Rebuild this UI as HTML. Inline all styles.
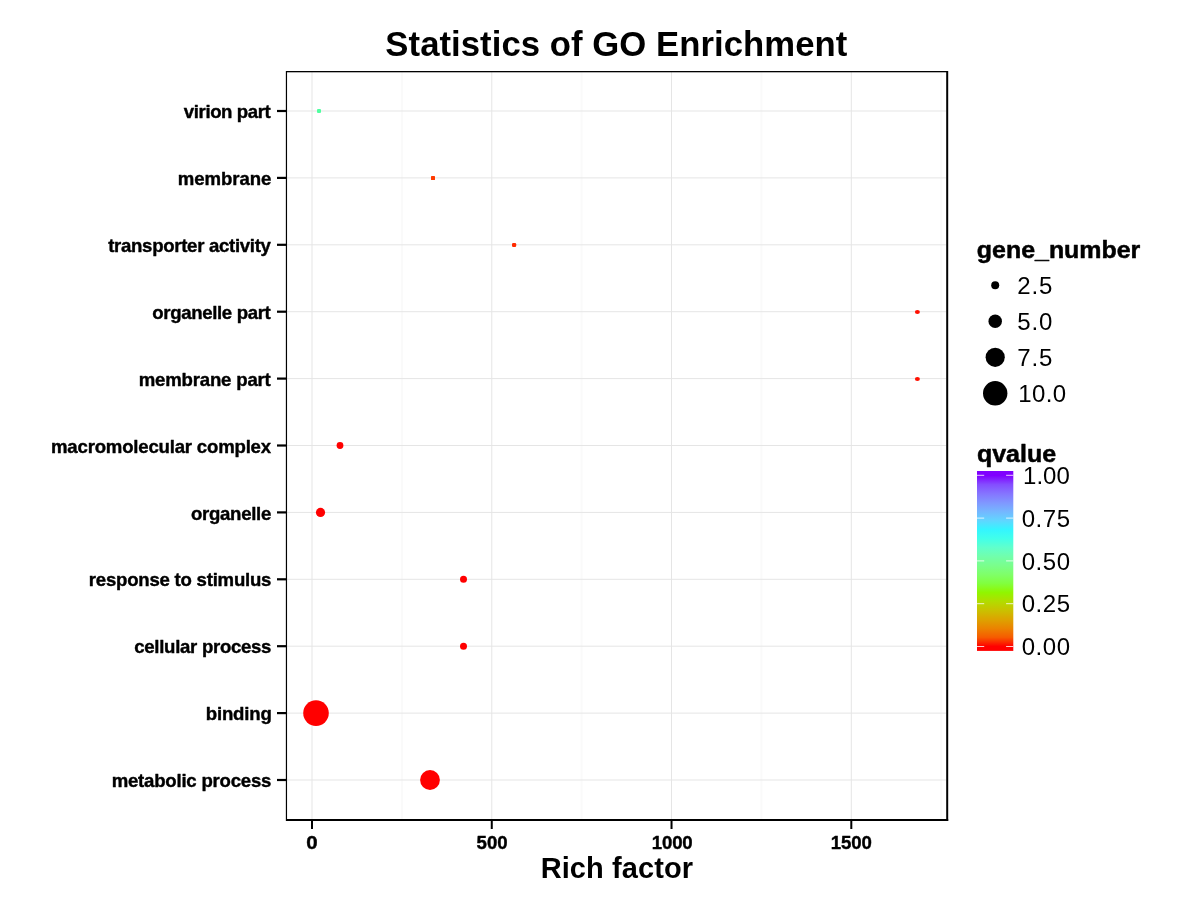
<!DOCTYPE html>
<html lang="en"><head><meta charset="utf-8"><title>Statistics of GO Enrichment</title>
<style>
html,body{margin:0;padding:0;background:#fff;}
body{width:1200px;height:900px;overflow:hidden;}
svg{display:block;will-change:transform;transform:translateZ(0);}
svg text{white-space:pre;}
</style></head><body>
<svg width="1200" height="900" viewBox="0 0 1200 900">
<defs><linearGradient id="rb" x1="0" y1="1" x2="0" y2="0">
<stop offset="0.0250" stop-color="#FF0000"/>
<stop offset="0.0750" stop-color="#F65B00"/>
<stop offset="0.1250" stop-color="#EB8300"/>
<stop offset="0.1750" stop-color="#DDA300"/>
<stop offset="0.2250" stop-color="#CAC100"/>
<stop offset="0.2750" stop-color="#B2DC00"/>
<stop offset="0.3250" stop-color="#90F600"/>
<stop offset="0.3750" stop-color="#81FF3E"/>
<stop offset="0.4250" stop-color="#7FFF69"/>
<stop offset="0.4750" stop-color="#7AFE8C"/>
<stop offset="0.5250" stop-color="#71FEAC"/>
<stop offset="0.5750" stop-color="#60FFCC"/>
<stop offset="0.6250" stop-color="#41FFEA"/>
<stop offset="0.6750" stop-color="#34F5FF"/>
<stop offset="0.7250" stop-color="#61D5FF"/>
<stop offset="0.7750" stop-color="#75B6FF"/>
<stop offset="0.8250" stop-color="#8096FF"/>
<stop offset="0.8750" stop-color="#8574FF"/>
<stop offset="0.9250" stop-color="#844DFF"/>
<stop offset="0.9750" stop-color="#8000FF"/>
</linearGradient></defs>
<rect x="0" y="0" width="1200" height="900" fill="#ffffff"/>
<line x1="401.88" y1="72" x2="401.88" y2="819" stroke="#FAFAFA" stroke-width="2"/>
<line x1="581.65" y1="72" x2="581.65" y2="819" stroke="#FAFAFA" stroke-width="2"/>
<line x1="761.42" y1="72" x2="761.42" y2="819" stroke="#FAFAFA" stroke-width="2"/>
<line x1="941.18" y1="72" x2="941.18" y2="819" stroke="#FAFAFA" stroke-width="2"/>
<line x1="312.00" y1="72" x2="312.00" y2="819" stroke="#E5E5E5" stroke-width="1"/>
<line x1="491.77" y1="72" x2="491.77" y2="819" stroke="#E5E5E5" stroke-width="1"/>
<line x1="671.53" y1="72" x2="671.53" y2="819" stroke="#E5E5E5" stroke-width="1"/>
<line x1="851.30" y1="72" x2="851.30" y2="819" stroke="#E5E5E5" stroke-width="1"/>
<line x1="287" y1="111.00" x2="946" y2="111.00" stroke="#E5E5E5" stroke-width="1"/>
<line x1="287" y1="177.90" x2="946" y2="177.90" stroke="#E5E5E5" stroke-width="1"/>
<line x1="287" y1="244.80" x2="946" y2="244.80" stroke="#E5E5E5" stroke-width="1"/>
<line x1="287" y1="311.70" x2="946" y2="311.70" stroke="#E5E5E5" stroke-width="1"/>
<line x1="287" y1="378.60" x2="946" y2="378.60" stroke="#E5E5E5" stroke-width="1"/>
<line x1="287" y1="445.50" x2="946" y2="445.50" stroke="#E5E5E5" stroke-width="1"/>
<line x1="287" y1="512.40" x2="946" y2="512.40" stroke="#E5E5E5" stroke-width="1"/>
<line x1="287" y1="579.30" x2="946" y2="579.30" stroke="#E5E5E5" stroke-width="1"/>
<line x1="287" y1="646.20" x2="946" y2="646.20" stroke="#E5E5E5" stroke-width="1"/>
<line x1="287" y1="713.10" x2="946" y2="713.10" stroke="#E5E5E5" stroke-width="1"/>
<line x1="287" y1="780.00" x2="946" y2="780.00" stroke="#E5E5E5" stroke-width="1"/>
<rect x="317.0" y="109.0" width="4.0" height="4.0" rx="1.1" fill="#50FFA0"/>
<rect x="431.0" y="176.0" width="4.0" height="4.0" rx="0.6" fill="#FF3A00"/>
<rect x="512.0" y="243.0" width="4.2" height="4.0" rx="1.2" fill="#FF2A00"/>
<ellipse cx="917.4" cy="312.00" rx="2.5" ry="2.1" fill="#FF0F00"/>
<ellipse cx="917.4" cy="379.00" rx="2.5" ry="2.1" fill="#FF0F00"/>
<circle cx="340.00" cy="445.50" r="3.40" fill="#FF0000"/>
<circle cx="320.50" cy="512.40" r="4.60" fill="#FF0000"/>
<circle cx="463.50" cy="579.30" r="3.50" fill="#FF0000"/>
<circle cx="463.50" cy="646.20" r="3.50" fill="#FF0000"/>
<circle cx="316.00" cy="713.10" r="12.80" fill="#FF0000"/>
<circle cx="430.00" cy="780.00" r="9.90" fill="#FF0000"/>
<rect x="285.85" y="71" width="1.2" height="750" fill="#000"/>
<rect x="286" y="71" width="662" height="1.3" fill="#000"/>
<rect x="946.2" y="71" width="2" height="750" fill="#000"/>
<rect x="286" y="819" width="662.2" height="2" fill="#000"/>
<rect x="277" y="109.90" width="9.5" height="2.2" fill="#000"/>
<rect x="277" y="176.80" width="9.5" height="2.2" fill="#000"/>
<rect x="277" y="243.70" width="9.5" height="2.2" fill="#000"/>
<rect x="277" y="310.60" width="9.5" height="2.2" fill="#000"/>
<rect x="277" y="377.50" width="9.5" height="2.2" fill="#000"/>
<rect x="277" y="444.40" width="9.5" height="2.2" fill="#000"/>
<rect x="277" y="511.30" width="9.5" height="2.2" fill="#000"/>
<rect x="277" y="578.20" width="9.5" height="2.2" fill="#000"/>
<rect x="277" y="645.10" width="9.5" height="2.2" fill="#000"/>
<rect x="277" y="712.00" width="9.5" height="2.2" fill="#000"/>
<rect x="277" y="778.90" width="9.5" height="2.2" fill="#000"/>
<rect x="311.00" y="820" width="2" height="9" fill="#000"/>
<rect x="490.77" y="820" width="2" height="9" fill="#000"/>
<rect x="670.53" y="820" width="2" height="9" fill="#000"/>
<rect x="850.30" y="820" width="2" height="9" fill="#000"/>
<text x="616.35" y="55.90" font-size="34.7" font-weight="bold" text-anchor="middle" textLength="461.97" lengthAdjust="spacing" font-family="Liberation Sans, Arial, Helvetica, sans-serif" fill="#000">Statistics of GO Enrichment</text>
<text x="616.85" y="877.80" font-size="29" font-weight="bold" text-anchor="middle" textLength="152.33" lengthAdjust="spacing" font-family="Liberation Sans, Arial, Helvetica, sans-serif" fill="#000">Rich factor</text>
<text x="270.80" y="118.00" font-size="18.6" font-weight="bold" text-anchor="end" textLength="86.99" lengthAdjust="spacing" font-family="Liberation Sans, Arial, Helvetica, sans-serif" fill="#000" stroke="#000" stroke-width="0.40" stroke-linejoin="round">virion part</text>
<text x="271.30" y="185.00" font-size="18.6" font-weight="bold" text-anchor="end" textLength="93.57" lengthAdjust="spacing" font-family="Liberation Sans, Arial, Helvetica, sans-serif" fill="#000" stroke="#000" stroke-width="0.40" stroke-linejoin="round">membrane</text>
<text x="270.90" y="252.00" font-size="18.6" font-weight="bold" text-anchor="end" textLength="162.71" lengthAdjust="spacing" font-family="Liberation Sans, Arial, Helvetica, sans-serif" fill="#000" stroke="#000" stroke-width="0.40" stroke-linejoin="round">transporter activity</text>
<text x="270.80" y="319.00" font-size="18.6" font-weight="bold" text-anchor="end" textLength="118.49" lengthAdjust="spacing" font-family="Liberation Sans, Arial, Helvetica, sans-serif" fill="#000" stroke="#000" stroke-width="0.40" stroke-linejoin="round">organelle part</text>
<text x="270.80" y="386.00" font-size="18.6" font-weight="bold" text-anchor="end" textLength="132.08" lengthAdjust="spacing" font-family="Liberation Sans, Arial, Helvetica, sans-serif" fill="#000" stroke="#000" stroke-width="0.40" stroke-linejoin="round">membrane part</text>
<text x="271.10" y="453.00" font-size="18.6" font-weight="bold" text-anchor="end" textLength="220.08" lengthAdjust="spacing" font-family="Liberation Sans, Arial, Helvetica, sans-serif" fill="#000" stroke="#000" stroke-width="0.40" stroke-linejoin="round">macromolecular complex</text>
<text x="271.30" y="520.00" font-size="18.6" font-weight="bold" text-anchor="end" textLength="80.28" lengthAdjust="spacing" font-family="Liberation Sans, Arial, Helvetica, sans-serif" fill="#000" stroke="#000" stroke-width="0.40" stroke-linejoin="round">organelle</text>
<text x="271.40" y="586.00" font-size="18.6" font-weight="bold" text-anchor="end" textLength="182.57" lengthAdjust="spacing" font-family="Liberation Sans, Arial, Helvetica, sans-serif" fill="#000" stroke="#000" stroke-width="0.40" stroke-linejoin="round">response to stimulus</text>
<text x="271.40" y="653.00" font-size="18.6" font-weight="bold" text-anchor="end" textLength="137.12" lengthAdjust="spacing" font-family="Liberation Sans, Arial, Helvetica, sans-serif" fill="#000" stroke="#000" stroke-width="0.40" stroke-linejoin="round">cellular process</text>
<text x="271.90" y="720.00" font-size="18.6" font-weight="bold" text-anchor="end" textLength="66.20" lengthAdjust="spacing" font-family="Liberation Sans, Arial, Helvetica, sans-serif" fill="#000" stroke="#000" stroke-width="0.40" stroke-linejoin="round">binding</text>
<text x="271.40" y="787.00" font-size="18.6" font-weight="bold" text-anchor="end" textLength="159.75" lengthAdjust="spacing" font-family="Liberation Sans, Arial, Helvetica, sans-serif" fill="#000" stroke="#000" stroke-width="0.40" stroke-linejoin="round">metabolic process</text>
<text x="312.05" y="849.00" font-size="18.6" font-weight="bold" text-anchor="middle" textLength="11.37" lengthAdjust="spacingAndGlyphs" font-family="Liberation Sans, Arial, Helvetica, sans-serif" fill="#000" stroke="#000" stroke-width="0.40" stroke-linejoin="round">0</text>
<text x="492.12" y="849.00" font-size="18.6" font-weight="bold" text-anchor="middle" textLength="31.12" lengthAdjust="spacing" font-family="Liberation Sans, Arial, Helvetica, sans-serif" fill="#000" stroke="#000" stroke-width="0.40" stroke-linejoin="round">500</text>
<text x="672.23" y="849.00" font-size="18.6" font-weight="bold" text-anchor="middle" textLength="40.77" lengthAdjust="spacing" font-family="Liberation Sans, Arial, Helvetica, sans-serif" fill="#000" stroke="#000" stroke-width="0.40" stroke-linejoin="round">1000</text>
<text x="851.30" y="849.00" font-size="18.6" font-weight="bold" text-anchor="middle" textLength="41.17" lengthAdjust="spacing" font-family="Liberation Sans, Arial, Helvetica, sans-serif" fill="#000" stroke="#000" stroke-width="0.40" stroke-linejoin="round">1500</text>
<text x="976.85" y="258.00" font-size="24" font-weight="bold" textLength="163.47" lengthAdjust="spacingAndGlyphs" font-family="Liberation Sans, Arial, Helvetica, sans-serif" fill="#000" stroke="#000" stroke-width="0.50" stroke-linejoin="round">gene_number</text>
<circle cx="995.2" cy="285.30" r="4.00" fill="#000"/>
<text x="1017.30" y="294.00" font-size="24" textLength="34.98" lengthAdjust="spacing" font-family="Liberation Sans, Arial, Helvetica, sans-serif" fill="#000">2.5</text>
<circle cx="995.2" cy="321.30" r="6.75" fill="#000"/>
<text x="1017.20" y="330.00" font-size="24" textLength="35.17" lengthAdjust="spacing" font-family="Liberation Sans, Arial, Helvetica, sans-serif" fill="#000">5.0</text>
<circle cx="995.2" cy="357.30" r="9.60" fill="#000"/>
<text x="1017.30" y="366.00" font-size="24" textLength="34.98" lengthAdjust="spacing" font-family="Liberation Sans, Arial, Helvetica, sans-serif" fill="#000">7.5</text>
<circle cx="995.2" cy="393.30" r="12.20" fill="#000"/>
<text x="1018.30" y="402.00" font-size="24" textLength="47.92" lengthAdjust="spacing" font-family="Liberation Sans, Arial, Helvetica, sans-serif" fill="#000">10.0</text>
<text x="976.95" y="462.00" font-size="24" font-weight="bold" textLength="79.23" lengthAdjust="spacingAndGlyphs" font-family="Liberation Sans, Arial, Helvetica, sans-serif" fill="#000" stroke="#000" stroke-width="0.50" stroke-linejoin="round">qvalue</text>
<rect x="977" y="471" width="36.3" height="179.9" fill="url(#rb)"/>
<line x1="977" y1="475.30" x2="984.2" y2="475.30" stroke="#fff" stroke-width="1" stroke-opacity="0.8"/>
<line x1="1006.1" y1="475.30" x2="1013.3" y2="475.30" stroke="#fff" stroke-width="1" stroke-opacity="0.8"/>
<text x="1023.10" y="484.00" font-size="24" textLength="46.72" lengthAdjust="spacing" font-family="Liberation Sans, Arial, Helvetica, sans-serif" fill="#000">1.00</text>
<line x1="977" y1="518.10" x2="984.2" y2="518.10" stroke="#fff" stroke-width="1" stroke-opacity="0.8"/>
<line x1="1006.1" y1="518.10" x2="1013.3" y2="518.10" stroke="#fff" stroke-width="1" stroke-opacity="0.8"/>
<text x="1021.70" y="526.80" font-size="24" textLength="48.32" lengthAdjust="spacing" font-family="Liberation Sans, Arial, Helvetica, sans-serif" fill="#000">0.75</text>
<line x1="977" y1="560.90" x2="984.2" y2="560.90" stroke="#fff" stroke-width="1" stroke-opacity="0.8"/>
<line x1="1006.1" y1="560.90" x2="1013.3" y2="560.90" stroke="#fff" stroke-width="1" stroke-opacity="0.8"/>
<text x="1021.70" y="569.60" font-size="24" textLength="48.32" lengthAdjust="spacing" font-family="Liberation Sans, Arial, Helvetica, sans-serif" fill="#000">0.50</text>
<line x1="977" y1="603.70" x2="984.2" y2="603.70" stroke="#fff" stroke-width="1" stroke-opacity="0.8"/>
<line x1="1006.1" y1="603.70" x2="1013.3" y2="603.70" stroke="#fff" stroke-width="1" stroke-opacity="0.8"/>
<text x="1021.70" y="612.40" font-size="24" textLength="48.32" lengthAdjust="spacing" font-family="Liberation Sans, Arial, Helvetica, sans-serif" fill="#000">0.25</text>
<line x1="977" y1="646.50" x2="984.2" y2="646.50" stroke="#fff" stroke-width="1" stroke-opacity="0.8"/>
<line x1="1006.1" y1="646.50" x2="1013.3" y2="646.50" stroke="#fff" stroke-width="1" stroke-opacity="0.8"/>
<text x="1021.70" y="655.20" font-size="24" textLength="48.32" lengthAdjust="spacing" font-family="Liberation Sans, Arial, Helvetica, sans-serif" fill="#000">0.00</text>
</svg>
</body></html>
